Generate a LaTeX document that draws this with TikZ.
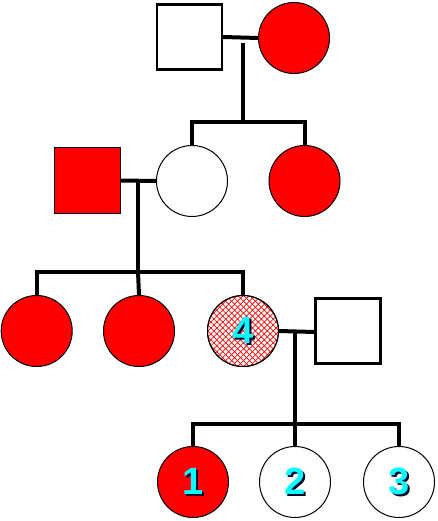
\documentclass[tikz,border=0pt]{standalone}
\usepackage{fontspec}
\setmainfont{Liberation Sans}
\usetikzlibrary{patterns.meta}
\definecolor{aqua}{RGB}{0,255,255}
\definecolor{shade}{RGB}{0,0,40}
\definecolor{pedred}{RGB}{255,0,0}
\newcommand{\shadownum}[1]{\makebox[0pt][l]{\hspace{2pt}\raisebox{-2pt}{\color{shade}#1}}#1}
\tikzset{
  male/.style={draw=black, line width=2.2pt, minimum size=65pt, inner sep=0pt, shape=rectangle},
  female/.style={draw=black, line width=1pt, circle, minimum size=71pt, inner sep=0pt},
  aff/.style={fill=pedred},
  unaff/.style={fill=white},
  link/.style={line width=4pt, line join=miter},
  numlabel/.style={text=aqua, font=\bfseries\fontsize{38}{38}\selectfont, inner sep=0pt}
}
\begin{document}
\begin{tikzpicture}[x=1pt,y=-1pt]
\useasboundingbox (0,0) rectangle (438,521);
% generation 1
\node[male, unaff] (f1) at (189.5,37) {};
\node[female, aff] (m1) at (294,38) {};
\draw[link] (f1.east) -- (m1.west);
\coordinate (c1) at (243,43);
\coordinate (p1) at (243,122);
% generation 2
\node[male, aff, line width=1pt, minimum size=66pt] (s2) at (87,180.5) {};
\node[female, unaff] (w2) at (192,181) {};
\node[female, aff] (r2) at (304.5,181) {};
\draw[link] (c1) -- (p1);
\draw[link] (w2.north) |- (p1) -| (r2.north);
\draw[link] (s2.east) -- (w2.west);
\coordinate (c2) at (138,181);
\coordinate (p2) at (138,271.5);
% generation 3
\node[female, aff] (g3a) at (36.7,331) {};
\node[female, aff] (g3b) at (139,331) {};
\node[female, pattern={Lines[angle=45,distance=4.2pt,line width=0.7pt]}, pattern color=pedred] (g3c) at (243,331) {};
\fill[pattern={Lines[angle=-45,distance=4.2pt,line width=0.7pt]}, pattern color=pedred] (g3c.center) circle (35.5pt);
\draw[line width=1pt] (g3c.center) circle (35.5pt);
\node[male, unaff] (h3) at (348,331) {};
\draw[link] (c2) -- (p2);
\draw[link] (g3a.north) |- (p2) -| (g3c.north);
\draw[link] (p2) -- (g3b.north);
\draw[link] (g3c.east) -- (h3.west |- 0,332);
\coordinate (c3) at (295,332);
\coordinate (p3) at (295,424);
% generation 4
\node[female, aff] (g4a) at (193,482) {};
\node[female, unaff] (g4b) at (295,482) {};
\node[female, unaff] (g4c) at (399,482) {};
\draw[link] (c3) -- (p3);
\draw[link] (g4a.north) |- (p3) -| (g4c.north);
\draw[link] (p3) -- (g4b.north);
% labels
\node[numlabel] (t4) at (g3c.center) {\shadownum{4}};
\node[numlabel] (t1) at (g4a.center) {\shadownum{1}};
\node[numlabel] (t2) at (g4b.center) {\shadownum{2}};
\node[numlabel] (t3) at (g4c.center) {\shadownum{3}};
\end{tikzpicture}
\end{document}
